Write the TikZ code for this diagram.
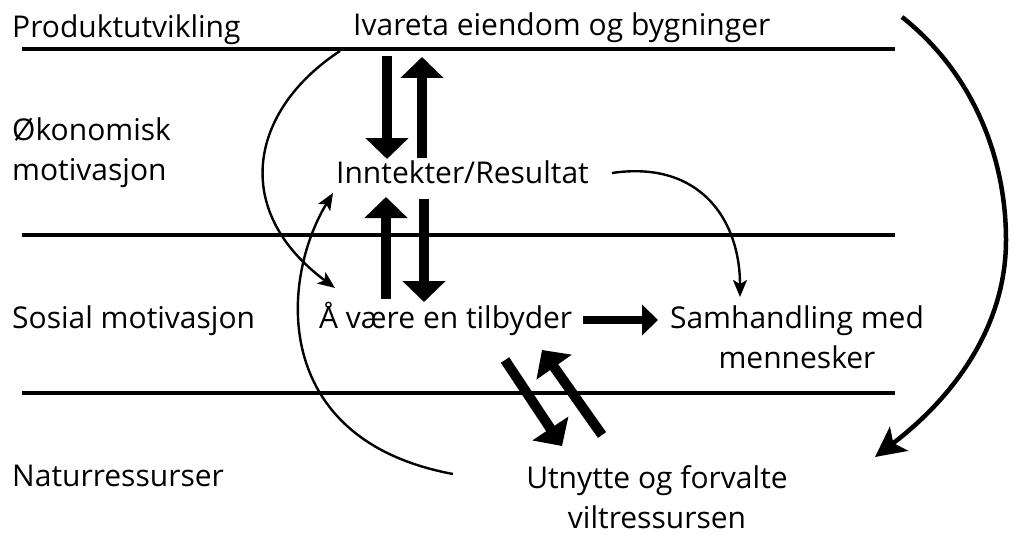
\documentclass[tikz,border=0pt]{standalone}
\usepackage{fontspec}
\setmainfont{Open Sans}
\usetikzlibrary{arrows.meta}
\begin{document}
\begin{tikzpicture}[x=1pt,y=-1pt,
  lbl/.style={inner sep=0pt, font=\fontsize{30}{40}\selectfont},
  divider/.style={line width=4pt},
  blockarrow/.style={line width=10pt, -{Triangle[width=42pt,length=21pt]}},
  smallblock/.style={line width=8pt, -{Triangle[width=30pt,length=16pt]}},
  thinarrow/.style={line width=2.4pt, -{Stealth[length=17pt,width=14pt,inset=4pt]}},
  bigarrow/.style={line width=4.5pt, -{Stealth[length=30pt,width=30pt,inset=7pt]}}]
\useasboundingbox (0,0) rectangle (1012,535);

% horizontal dividers between the levels
\draw[divider] (22,49) -- (895,49);
\draw[divider] (22,235) -- (895,235);
\draw[divider] (22,393) -- (895,393);

% level labels (multi-line nodes sit on the baseline of their last line)
\node[lbl, anchor=base west] (prod) at (12,38) {Produktutvikling};
\node[lbl, anchor=base west, align=left] (okon) at (12,180) {Økonomisk\\motivasjon};
\node[lbl, anchor=base west] (sosial) at (12,328) {Sosial motivasjon};
\node[lbl, anchor=base west] (natur) at (12,486) {Naturressurser};

% content labels
\node[lbl, anchor=base west] (ivareta) at (353,36) {Ivareta eiendom og bygninger};
\node[lbl, anchor=base west] (inntekter) at (336,183) {Inntekter/Resultat};
\node[lbl, anchor=base west] (tilbyder) at (319,328) {Å være en tilbyder};
\node[lbl, anchor=base, align=center] (samhandling) at (797,368) {Samhandling med\\mennesker};
\node[lbl, anchor=base, align=center] (utnytte) at (657,528) {Utnytte og forvalte\\viltressursen};

% end points of the block arrows
\coordinate (a1s) at (387,56);  \coordinate (a1e) at (387,159);
\coordinate (a2s) at (422,158); \coordinate (a2e) at (422,57);
\coordinate (a3s) at (386,299); \coordinate (a3e) at (386,197);
\coordinate (a4s) at (424,199); \coordinate (a4e) at (424,302);
\coordinate (a5s) at (583,320); \coordinate (a5e) at (658,320);
\coordinate (a6s) at (505,360); \coordinate (a6e) at (562,446);
\coordinate (a7s) at (602,435); \coordinate (a7e) at (542,350);

\draw[blockarrow] (a1s) -- (a1e);
\draw[blockarrow] (a2s) -- (a2e);
\draw[blockarrow] (a3s) -- (a3e);
\draw[blockarrow] (a4s) -- (a4e);
\draw[smallblock] (a5s) -- (a5e);
\draw[blockarrow] (a6s) -- (a6e);
\draw[blockarrow] (a7s) -- (a7e);

% thin curved influences
\coordinate (c1s) at (340,51);  \coordinate (c1e) at (335,288);
\coordinate (c2s) at (453,474); \coordinate (c2e) at (333,193);
\coordinate (c3s) at (612,173); \coordinate (c3e) at (740,297);
\draw[thinarrow] (c1s) .. controls (250,110) and (230,210) .. (c1e);
\draw[thinarrow] (c2s) .. controls (270,440) and (280,280) .. (c2e);
\draw[thinarrow] (c3s) .. controls (700,160) and (740,220) .. (c3e);

% large arc on the right
\coordinate (bs) at (902,17); \coordinate (bm) at (1006,240); \coordinate (be) at (875,457);
\draw[bigarrow] (bs) .. controls (975,75) and (1006,160) .. (bm)
  .. controls (1006,330) and (950,400) .. (be);
\end{tikzpicture}
\end{document}
